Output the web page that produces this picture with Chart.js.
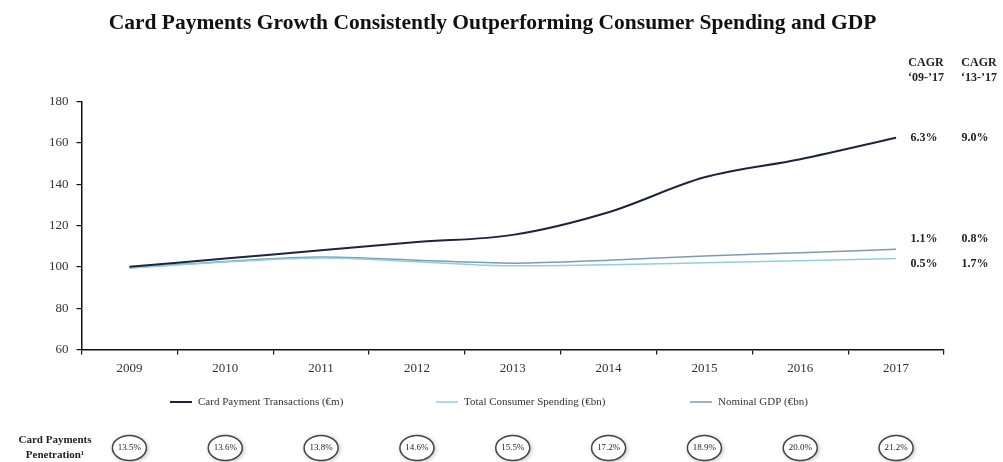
<!DOCTYPE html>
<html>
<head>
<meta charset="utf-8">
<script src="https://cdn.jsdelivr.net/npm/chart.js@4"></script>
<style>
  html, body { margin: 0; padding: 0; background: #fff; }
  #wrap { width: 1003px; height: 462px; }
</style>
</head>
<body>
<div id="wrap"><canvas id="growth_Chart" width="1003" height="462"></canvas></div>
<script>
// 데이터
const years = ['2009', '2010', '2011', '2012', '2013', '2014', '2015', '2016', '2017'];
const cardPayments = [100, 104, 108, 112, 115.5, 126.5, 143.4, 152.2, 162.6];
const consumerSpending = [99.5, 102.3, 104.3, 102.5, 100.5, 101, 102, 103, 104];
const nominalGdp = [99.5, 102.6, 104.8, 103.2, 101.8, 103.2, 105.3, 106.8, 108.5];
const seriesNames = ['Card Payment Transactions (€m)', 'Total Consumer Spending (€bn)', 'Nominal GDP (€bn)'];
const cagr0917 = ['6.3%', '0.5%', '1.1%'];
const cagr1317 = ['9.0%', '1.7%', '0.8%'];
const penetration = ['13.5%', '13.6%', '13.8%', '14.6%', '15.5%', '17.2%', '18.9%', '20.0%', '21.2%'];

const serif = '"Liberation Serif", "DejaVu Serif", serif';
const lineColors = ['#1c2540', '#8fd0e0', '#7e9bb0'];
const lineWidths = [2, 1.5, 1.5];

// 범례, CAGR 값, 보급률 원 그리기
const extrasPlugin = {
    id: 'extras',
    afterDraw(chart) {
        const ctx = chart.ctx;
        const x = chart.scales.x;
        const y = chart.scales.y;
        const colA = 924, colB = 975;
        ctx.save();
        ctx.fillStyle = '#222';
        ctx.textAlign = 'center';
        ctx.textBaseline = 'middle';
        ctx.font = 'bold 12px ' + serif;
        ctx.fillText('CAGR', colA + 2, 63);
        ctx.fillText('CAGR', colB + 4, 63);
        ctx.fillText('\u201809-\u201917', colA + 2, 78);
        ctx.fillText('\u201813-\u201917', colB + 4, 78);

        const lastVals = [cardPayments[8], consumerSpending[8], nominalGdp[8]];
        const shifts = [0, 5, -10];
        lastVals.forEach((v, i) => {
            const py = y.getPixelForValue(v) + shifts[i];
            ctx.fillText(cagr0917[i], colA, py);
            ctx.fillText(cagr1317[i], colB, py);
        });

        // 범례
        const legendX = [170, 436, 690];
        ctx.textAlign = 'left';
        ctx.font = '11px ' + serif;
        seriesNames.forEach((name, i) => {
            ctx.beginPath();
            ctx.moveTo(legendX[i], 402);
            ctx.lineTo(legendX[i] + 22, 402);
            ctx.strokeStyle = lineColors[i];
            ctx.lineWidth = lineWidths[i];
            ctx.stroke();
            ctx.fillStyle = '#333';
            ctx.fillText(name, legendX[i] + 28, 402);
        });

        // 보급률 라벨
        ctx.textAlign = 'center';
        ctx.fillStyle = '#222';
        ctx.font = 'bold 11px ' + serif;
        ctx.fillText('Card Payments', 55, 440);
        ctx.fillText('Penetration\u00b9', 55, 455);

        penetration.forEach((p, i) => {
            const cx = x.getPixelForValue(i);
            const cy = 448;
            ctx.save();
            ctx.shadowColor = 'rgba(0,0,0,0.35)';
            ctx.shadowBlur = 5;
            ctx.shadowOffsetX = 1;
            ctx.shadowOffsetY = 1;
            ctx.beginPath();
            ctx.ellipse(cx, cy, 17, 12.5, 0, 0, Math.PI * 2);
            ctx.fillStyle = '#fff';
            ctx.fill();
            ctx.restore();
            ctx.beginPath();
            ctx.ellipse(cx, cy, 17, 12.5, 0, 0, Math.PI * 2);
            ctx.lineWidth = 1.5;
            ctx.strokeStyle = '#444';
            ctx.stroke();
            ctx.fillStyle = '#222';
            ctx.font = '9px ' + serif;
            ctx.fillText(p, cx, cy);
        });
        ctx.restore();
    }
};

const ctxGrowth = document.getElementById('growth_Chart').getContext('2d');
new Chart(ctxGrowth, {
    type: 'line',
    data: {
        labels: years,
        datasets: [{
            label: seriesNames[0],
            data: cardPayments,
            borderColor: lineColors[0],
            borderWidth: lineWidths[0],
        }, {
            label: seriesNames[1],
            data: consumerSpending,
            borderColor: lineColors[1],
            borderWidth: lineWidths[1],
        }, {
            label: seriesNames[2],
            data: nominalGdp,
            borderColor: lineColors[2],
            borderWidth: lineWidths[2],
        }]
    },
    options: {
        responsive: false,
        animation: false,
        elements: {
            point: { radius: 0 },
            line: { tension: 0.3, cubicInterpolationMode: 'monotone' }
        },
        layout: {
            padding: { left: 41, right: 59, top: 0, bottom: 80 }
        },
        plugins: {
            title: {
                display: true,
                text: 'Card Payments Growth Consistently Outperforming Consumer Spending and GDP',
                color: '#111',
                font: { family: serif, size: 21.5, weight: 'bold' },
                padding: { top: 11, bottom: 65 }
            },
            legend: { display: false },
            tooltip: { enabled: false }
        },
        scales: {
            x: {
                offset: true,
                border: { color: '#111', width: 1.5 },
                grid: {
                    offset: true,
                    drawOnChartArea: false,
                    drawTicks: true,
                    tickLength: 5,
                    color: '#111',
                    lineWidth: 1.2
                },
                ticks: {
                    color: '#333',
                    padding: 6,
                    font: { family: serif, size: 13 }
                }
            },
            y: {
                min: 60,
                max: 180,
                border: { color: '#111', width: 1.5 },
                grid: {
                    drawOnChartArea: false,
                    drawTicks: true,
                    tickLength: 5,
                    color: '#111',
                    lineWidth: 1.2
                },
                ticks: {
                    stepSize: 20,
                    color: '#333',
                    padding: 8,
                    font: { family: serif, size: 13 }
                }
            }
        }
    },
    plugins: [extrasPlugin]
});
</script>
</body>
</html>
